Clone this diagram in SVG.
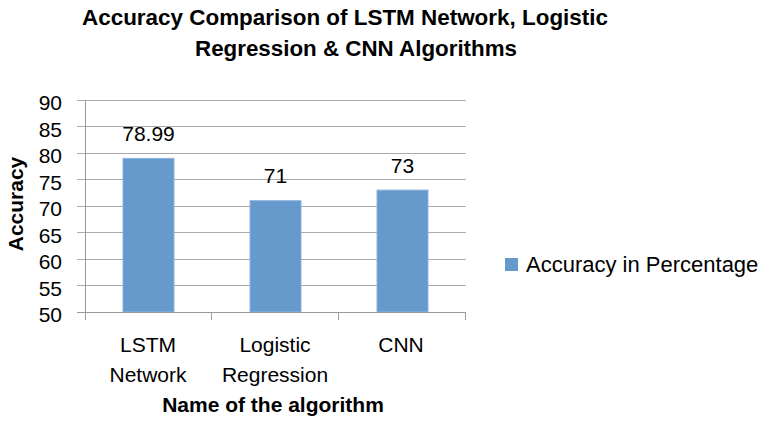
<svg xmlns="http://www.w3.org/2000/svg" width="760" height="425" viewBox="0 0 760 425">
  <style>
    text { font-family: "Liberation Sans", Arial, sans-serif; fill: #000; }
    .title { font-size: 22px; font-weight: bold; text-anchor: middle; }
    .axtitle { font-size: 21px; font-weight: bold; text-anchor: middle; }
    .tick { font-size: 21px; text-anchor: end; }
    .cat { font-size: 21px; text-anchor: middle; }
    .val { font-size: 21px; text-anchor: middle; }
    .legend { font-size: 22px; }
    .grid { stroke: #ABABAB; stroke-width: 1; fill: none; }
    .axis { stroke: #9A9A9A; stroke-width: 1; fill: none; }
    .bar { fill: #6699CC; stroke: #8DB3DD; stroke-width: 1; }
  </style>
  <rect width="760" height="425" fill="#FFFFFF"/>

  <g id="title">
    <text class="title" x="345" y="25" textLength="526" lengthAdjust="spacingAndGlyphs">Accuracy Comparison of LSTM Network, Logistic</text>
    <text class="title" x="356" y="56" textLength="322" lengthAdjust="spacingAndGlyphs">Regression &amp; CNN Algorithms</text>
  </g>

  <g id="gridlines">
    <line class="grid" x1="77" y1="100.5" x2="466" y2="100.5"/>
    <line class="grid" x1="77" y1="126.5" x2="466" y2="126.5"/>
    <line class="grid" x1="77" y1="153.5" x2="466" y2="153.5"/>
    <line class="grid" x1="77" y1="179.5" x2="466" y2="179.5"/>
    <line class="grid" x1="77" y1="206.5" x2="466" y2="206.5"/>
    <line class="grid" x1="77" y1="232.5" x2="466" y2="232.5"/>
    <line class="grid" x1="77" y1="259.5" x2="466" y2="259.5"/>
    <line class="grid" x1="77" y1="285.5" x2="466" y2="285.5"/>
  </g>

  <g id="y-axis">
    <line class="axis" x1="85.5" y1="100" x2="85.5" y2="320"/>
    <text class="tick" x="62" y="110">90</text>
    <text class="tick" x="62" y="136.5">85</text>
    <text class="tick" x="62" y="163">80</text>
    <text class="tick" x="62" y="189.5">75</text>
    <text class="tick" x="62" y="216">70</text>
    <text class="tick" x="62" y="242.5">65</text>
    <text class="tick" x="62" y="269">60</text>
    <text class="tick" x="62" y="295.5">55</text>
    <text class="tick" x="62" y="322">50</text>
    <text class="axtitle" transform="translate(23,204) rotate(-90)">Accuracy</text>
  </g>

  <g id="bars">
    <g id="bar-lstm">
      <rect class="bar" x="123" y="158.4" width="51" height="153.6"/>
      <text class="val" x="148.5" y="141">78.99</text>
    </g>
    <g id="bar-logistic">
      <rect class="bar" x="250" y="200.7" width="51" height="111.3"/>
      <text class="val" x="275.5" y="183">71</text>
    </g>
    <g id="bar-cnn">
      <rect class="bar" x="377" y="190.1" width="51" height="121.9"/>
      <text class="val" x="402.5" y="172.5">73</text>
    </g>
  </g>

  <g id="x-axis">
    <line class="axis" x1="77" y1="312.5" x2="466" y2="312.5"/>
    <line class="axis" x1="211.5" y1="312" x2="211.5" y2="320"/>
    <line class="axis" x1="338.5" y1="312" x2="338.5" y2="320"/>
    <line class="axis" x1="465.5" y1="312" x2="465.5" y2="320"/>
    <text class="cat" x="148" y="352">LSTM</text>
    <text class="cat" x="148" y="382">Network</text>
    <text class="cat" x="275" y="352">Logistic</text>
    <text class="cat" x="275" y="382">Regression</text>
    <text class="cat" x="401" y="352">CNN</text>
    <text class="axtitle" x="273" y="412">Name of the algorithm</text>
  </g>

  <g id="legend">
    <rect x="505" y="258" width="13" height="13" fill="#6699CC"/>
    <text class="legend" x="526" y="272">Accuracy in Percentage</text>
  </g>
</svg>
